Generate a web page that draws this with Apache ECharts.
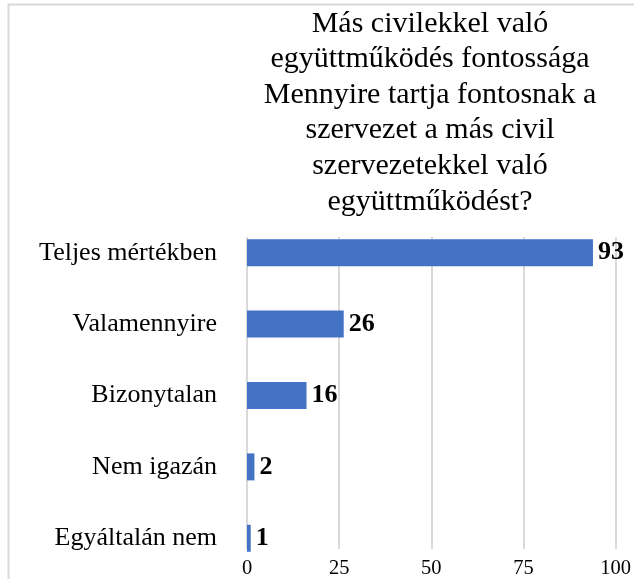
<!DOCTYPE html>
<html>
<head>
<meta charset="utf-8">
<script src="https://cdn.jsdelivr.net/npm/echarts@6/dist/echarts.min.js"></script>
<style>
  html, body { margin: 0; padding: 0; background: #fff; }
  #chart { width: 634px; height: 579px; }
</style>
</head>
<body>
<div id="chart"></div>
<script>
// categories listed top to bottom
const categories = ['Teljes mértékben', 'Valamennyire', 'Bizonytalan', 'Nem igazán', 'Egyáltalán nem'];
const values = [93, 26, 16, 2, 1];
const xTicks = [0, 25, 50, 75, 100];

const serif = '"Liberation Serif", "Times New Roman", serif';
const chart = echarts.init(document.getElementById('chart'));

const option = {
  backgroundColor: '#fff',
  animation: false,
  title: {
    text: 'Más civilekkel való\negyüttműködés fontossága\nMennyire tartja fontosnak a\nszervezet a más civil\nszervezetekkel való\negyüttműködést?',
    left: 425,
    top: 1,
    textAlign: 'center',
    textStyle: { fontFamily: serif, fontSize: 30, fontWeight: 'normal', color: '#000', lineHeight: 35.6 }
  },
  graphic: [{
    type: 'rect',
    shape: { x: 8.5, y: 4.5, width: 700, height: 700 },
    style: { fill: 'none', stroke: '#d9d9d9', lineWidth: 2 },
    silent: true
  }],
  grid: [
    // grid lines + value axis labels
    { left: 247, right: 15, top: 237, bottom: 27 },
    // bars
    { left: 247, right: 15, top: 217, bottom: 5 }
  ],
  xAxis: [
    {
      gridIndex: 0, type: 'value', min: xTicks[0], max: xTicks[xTicks.length - 1], interval: 25,
      axisLine: { show: false }, axisTick: { show: false },
      splitLine: { lineStyle: { color: '#d9d9d9', width: 2 } },
      axisLabel: { fontFamily: serif, fontSize: 20.5, color: '#000', margin: 9 }
    },
    {
      gridIndex: 1, type: 'value', min: xTicks[0], max: xTicks[xTicks.length - 1],
      show: false
    }
  ],
  yAxis: [
    { gridIndex: 0, type: 'category', data: categories, inverse: true, show: false },
    {
      gridIndex: 1, type: 'category', data: categories, inverse: true,
      axisLine: { show: false }, axisTick: { show: false },
      axisLabel: { fontFamily: serif, fontSize: 26, color: '#000', margin: 30 }
    }
  ],
  series: [{
    type: 'bar',
    xAxisIndex: 1, yAxisIndex: 1,
    data: values,
    barWidth: 27,
    itemStyle: { color: '#4472c4' },
    label: {
      show: true, position: 'right', distance: 5,
      fontFamily: serif, fontSize: 26, fontWeight: 'bold', color: '#000'
    }
  }]
};

chart.setOption(option);
</script>
</body>
</html>
